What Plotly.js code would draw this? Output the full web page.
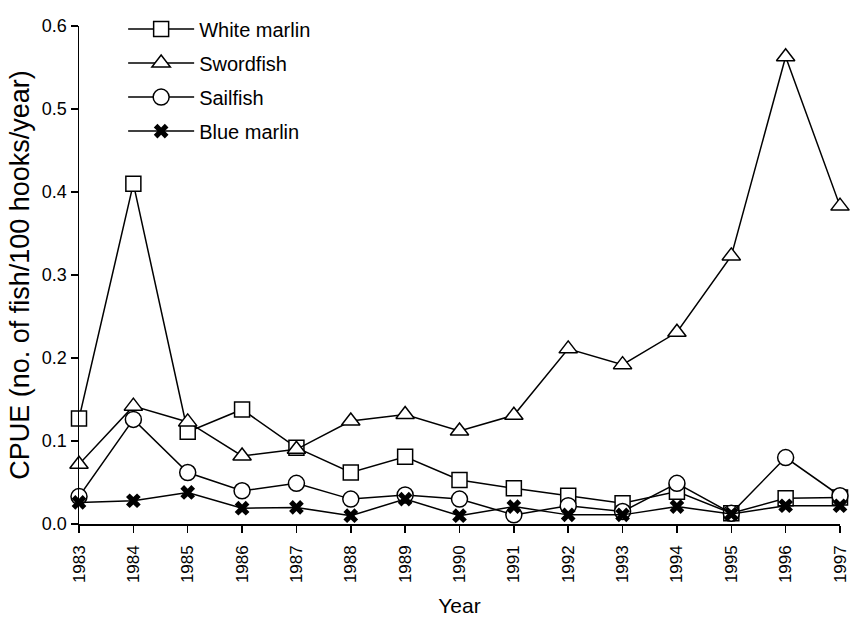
<!DOCTYPE html>
<html>
<head>
<meta charset="utf-8">
<script src="https://cdn.plot.ly/plotly-3.0.1.min.js"></script>
<style>html,body{margin:0;padding:0;background:#fff;}#chart{width:850px;height:617px;}</style>
</head>
<body>
<div id="chart"></div>
<script>
const years = [1983,1984,1985,1986,1987,1988,1989,1990,1991,1992,1993,1994,1995,1996,1997];
const whiteMarlin = [0.127,0.410,0.111,0.138,0.092,0.062,0.081,0.053,0.043,0.034,0.025,0.039,0.013,0.031,0.032];
const swordfish   = [0.072,0.142,0.123,0.082,0.090,0.124,0.132,0.112,0.131,0.211,0.192,0.231,0.323,0.563,0.383];
const sailfish    = [0.033,0.126,0.062,0.040,0.049,0.030,0.035,0.030,0.011,0.022,0.015,0.049,0.013,0.080,0.034];
const blueMarlin  = [0.026,0.028,0.038,0.019,0.020,0.010,0.030,0.010,0.021,0.011,0.011,0.021,0.012,0.022,0.022];
const yTicks = [0,0.1,0.2,0.3,0.4,0.5,0.6];
const yTickText = ['0.0','0.1','0.2','0.3','0.4','0.5','0.6'];

function openTrace(name, y, symbol, size){
  return {x: years, y: y, name: name, legendgroup: name, type: 'scatter', mode: 'lines+markers',
    cliponaxis: false,
    line: {color: '#000', width: 1.5},
    marker: {symbol: symbol, size: size, color: '#fff', line: {color: '#000', width: 1.5}}};
}
const traces = [
  openTrace('White marlin', whiteMarlin, 'square', 15),
  openTrace('Swordfish', swordfish, 'triangle-up', 16),
  openTrace('Sailfish', sailfish, 'circle', 16),
  {x: years, y: blueMarlin, name: 'Blue marlin', legendgroup: 'Blue marlin', type: 'scatter', mode: 'lines+markers',
    cliponaxis: false,
    line: {color: '#000', width: 1.5},
    marker: {symbol: 'x', size: 13, color: '#000', line: {color: '#000', width: 0}}}
];
const layout = {
  width: 850, height: 617,
  margin: {l: 79, r: 10, t: 18, b: 93},
  paper_bgcolor: '#fff', plot_bgcolor: '#fff',
  font: {family: '"Liberation Sans", Arial, sans-serif', color: '#000'},
  showlegend: true,
  legend: {x: 0.058, y: 1.033, xanchor: 'left', yanchor: 'top', bgcolor: 'rgba(0,0,0,0)',
    font: {size: 20, color: '#000'}, itemwidth: 66, tracegroupgap: 5, traceorder: 'grouped'},
  xaxis: {range: [1983, 1997], tickvals: years, ticktext: years.map(String), tickangle: -90,
    showgrid: false, zeroline: false, showline: true, linecolor: '#000', linewidth: 1.5,
    ticks: 'outside', ticklen: 7, tickcolor: '#000', tickwidth: 1.5,
    ticklabelstandoff: 6, ticklabeloverflow: 'allow',
    tickfont: {size: 17, color: '#000'},
    title: {text: 'Year', font: {size: 21, color: '#000'}, standoff: 17}},
  yaxis: {range: [0, 0.6], tickvals: yTicks, ticktext: yTickText,
    showgrid: false, zeroline: false, showline: true, linecolor: '#000', linewidth: 1.5,
    ticks: 'outside', ticklen: 7, tickcolor: '#000', tickwidth: 1.5,
    tickfont: {size: 18, color: '#000'},
    title: {text: 'CPUE (no. of fish/100 hooks/year)', font: {size: 27, color: '#000'}, standoff: 4}}
};
Plotly.newPlot('chart', traces, layout, {displayModeBar: false, staticPlot: true});
</script>
</body>
</html>
